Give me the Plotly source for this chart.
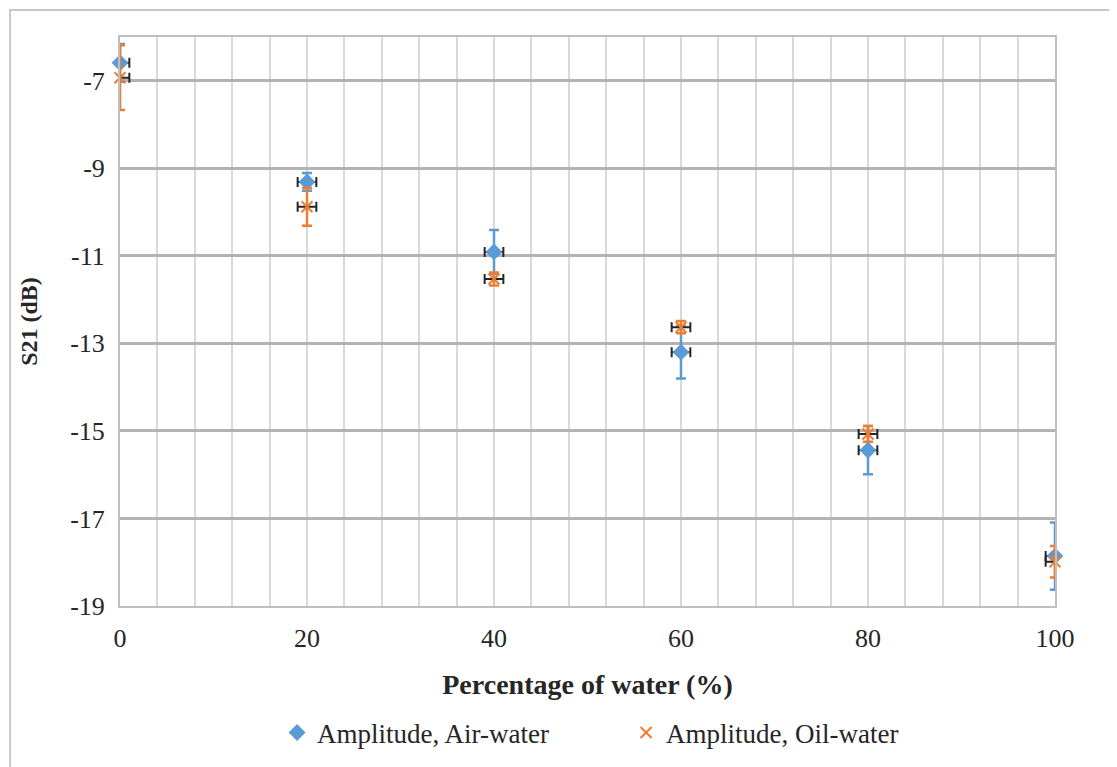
import plotly.graph_objects as go

water_pct = [0, 20, 40, 60, 80, 100]
air_water = [-6.59, -9.31, -10.91, -13.20, -15.44, -17.86]
air_water_err = [0.43, 0.20, 0.50, 0.60, 0.55, 0.77]
oil_water = [-6.93, -9.88, -11.53, -12.63, -15.07, -17.99]
oil_water_err = [0.74, 0.43, 0.15, 0.14, 0.18, 0.36]
x_err = [1, 1, 1, 1, 1, 1]
y_tick_vals = [-19, -17, -15, -13, -11, -9, -7]
y_tick_text = ["-19", "-17", "-15", "-13", "-11", "-9", "-7"]

blue = "#5B9BD5"
orange = "#ED7D31"
font_family = "Liberation Serif, Times New Roman, serif"

fig = go.Figure()

series = [
    ("Amplitude, Air-water", air_water, air_water_err, blue,
     dict(symbol="diamond", size=13, color=blue)),
    ("Amplitude, Oil-water", oil_water, oil_water_err, orange,
     dict(symbol="x-thin-open", size=11, color=orange, line=dict(color=orange, width=2))),
]

for name, yv, ye, col, mk in series:
    # horizontal error bars (clipped to plot area)
    fig.add_trace(go.Scatter(
        x=water_pct, y=yv, mode="markers", showlegend=False, hoverinfo="skip",
        marker=dict(size=1, opacity=0, color=col),
        error_x=dict(type="data", array=x_err, color="#262626", thickness=2, width=5),
        cliponaxis=True,
    ))
    # markers with vertical error bars
    fig.add_trace(go.Scatter(
        x=water_pct, y=yv, mode="markers", name=name,
        marker=mk,
        error_y=dict(type="data", array=ye, color=col, thickness=2.5, width=5),
        cliponaxis=False,
    ))

fig.update_layout(
    width=1117, height=767,
    margin=dict(l=112, r=70, t=29, b=169, autoexpand=False),
    paper_bgcolor="white", plot_bgcolor="white",
    font=dict(family=font_family, size=26, color="#262626"),
    showlegend=True,
    legend=dict(orientation="h", x=0.168, xanchor="left", y=-0.223, yanchor="middle",
                font=dict(size=27, color="#262626"), itemwidth=30, tracegroupgap=0,
                entrywidth=304, entrywidthmode="pixels",
                bgcolor="rgba(0,0,0,0)"),
    xaxis=dict(
        range=[0, 100], tick0=0, dtick=20, showgrid=True, gridcolor="#d9d9d9", gridwidth=2,
        minor=dict(dtick=4, showgrid=True, gridcolor="#d9d9d9", gridwidth=2),
        showline=True, linecolor="#bfbfbf", linewidth=2, mirror=True,
        zeroline=False, ticks="", ticklen=0, ticklabelstandoff=8, automargin=False,
        title=dict(text="<b>Percentage of water (%)</b>", font=dict(size=28), standoff=22),
    ),
    yaxis=dict(
        range=[-19, -6], tickvals=y_tick_vals, ticktext=y_tick_text,
        showgrid=True, gridcolor="#b3b3b3", gridwidth=2.5,
        showline=True, linecolor="#bfbfbf", linewidth=2, mirror=True,
        zeroline=False, ticks="", ticklen=0, ticklabelstandoff=8, automargin=False,
        title=dict(text="<b>S21 (dB)</b>", font=dict(size=24), standoff=26),
    ),
    shapes=[dict(type="rect", xref="paper", yref="paper",
                 x0=-0.1176, x1=1.0652, y0=-0.29, y1=1.0475,
                 line=dict(color="#c8c8c8", width=2), fillcolor="rgba(0,0,0,0)", layer="below")],
)

fig.write_html("out.html")
